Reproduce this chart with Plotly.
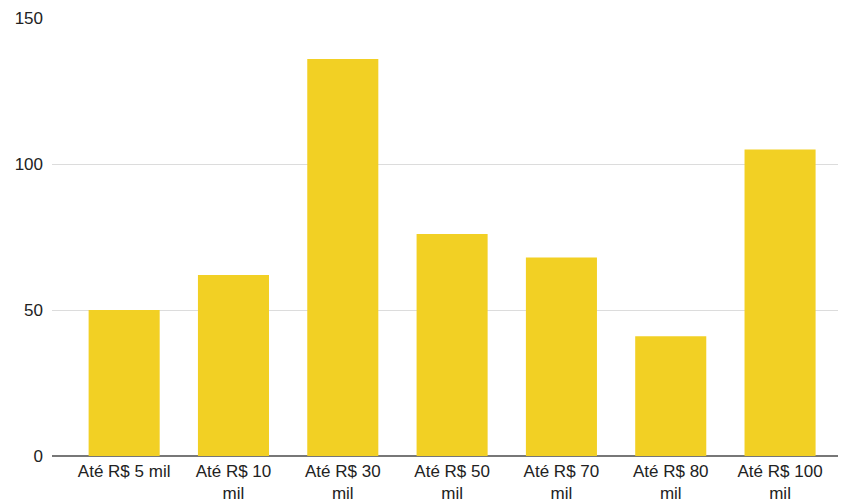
import plotly.graph_objects as go

categories = ["Até R$ 5 mil", "Até R$ 10<br>mil", "Até R$ 30<br>mil", "Até R$ 50<br>mil",
              "Até R$ 70<br>mil", "Até R$ 80<br>mil", "Até R$ 100<br>mil"]
values = [50, 62, 136, 76, 68, 41, 105]
y_ticks = [0, 50, 100, 150]

fig = go.Figure(go.Bar(x=list(range(len(categories))), y=values, marker_color="#F2D024",
                       marker_line_width=0, width=0.65))

# page body has an 8px default margin, so the figure is sized/offset to compensate
fig.update_layout(
    width=839, height=496,
    margin=dict(l=44, r=9, t=10, b=48, autoexpand=False),
    paper_bgcolor="white", plot_bgcolor="white",
    font=dict(family="Liberation Sans, Arial, sans-serif", size=17, color="#222222"),
    showlegend=False,
)
fig.update_xaxes(
    range=[-0.66, 6.53], tickmode="array", tickvals=list(range(len(categories))),
    ticktext=categories, showgrid=False, showline=False, zeroline=False, ticks="",
    automargin=False, ticklabelstandoff=3,
)
fig.update_yaxes(
    range=[0, 150], tickvals=y_ticks, showgrid=True, gridcolor="#dcdcdc", gridwidth=1,
    zeroline=True, zerolinecolor="#777777", zerolinewidth=2, ticks="", ticklabelstandoff=8,
    automargin=False,
)
fig.write_html("out.html")
